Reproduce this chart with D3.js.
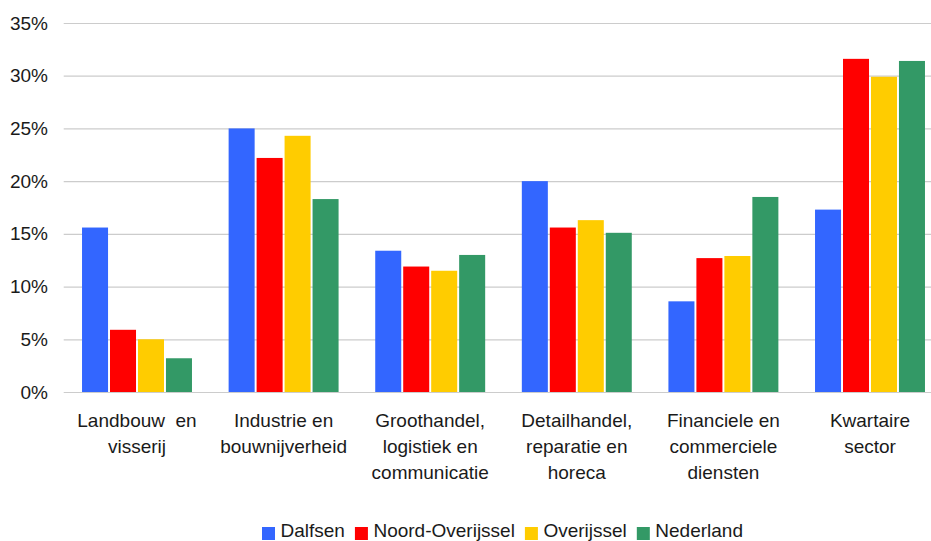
<!DOCTYPE html>
<html>
<head>
<meta charset="utf-8">
<script src="https://cdn.jsdelivr.net/npm/d3@7"></script>
<style>
    body { margin: 0; background: #fff; }
    text { font-family: "Liberation Sans", Arial, sans-serif; fill: #1a1a1a; }
</style>
</head>
<body>
<div id="root"></div>
<script>
"use strict";

/* ************************************* Data ******************************** */

// Sectors, each label split in the lines shown under the axis
const categories = [
    ["Landbouw  en", "visserij"],
    ["Industrie en", "bouwnijverheid"],
    ["Groothandel,", "logistiek en", "communicatie"],
    ["Detailhandel,", "reparatie en", "horeca"],
    ["Financiele en", "commerciele", "diensten"],
    ["Kwartaire", "sector"]
];

const seriesNames = ["Dalfsen", "Noord-Overijssel", "Overijssel", "Nederland"];

// Share of jobs per sector (%)
const dalfsen = [15.6, 25.0, 13.4, 20.0, 8.6, 17.3];
const noordOverijssel = [5.9, 22.2, 11.9, 15.6, 12.7, 31.6];
const overijssel = [5.0, 24.3, 11.5, 16.3, 12.9, 29.9];
const nederland = [3.2, 18.3, 13.0, 15.1, 18.5, 31.4];

const yTicks = [0, 5, 10, 15, 20, 25, 30, 35];

/* ************************************* Set up ******************************** */

const width = 931;
const height = 541;
const colors = ["#3366ff", "#ff0000", "#ffcc00", "#339966"];

const plot = { left: 63.7, right: 943.3, top: 23, bottom: 392 };

const values = [dalfsen, noordOverijssel, overijssel, nederland];
const keys = categories.map((c, i) => i);

let svg = d3.select('#root')
    .append('svg')
    .attr('width', width)
    .attr('height', height);

/* ************************************* Scales ******************************** */

let x0 = d3.scaleBand()
    .domain(keys)
    .range([plot.left, plot.right])
    .paddingInner(0.25)
    .paddingOuter(0.125);

let x1 = d3.scaleBand()
    .domain(seriesNames)
    .range([0, x0.bandwidth()])
    .paddingInner(0.07);

let yScale = d3.scaleLinear()
    .domain([0, 35])
    .range([plot.bottom, plot.top]);

/* ************************************* Grid + y axis ******************************** */

let yAxis = d3.axisLeft(yScale)
    .tickValues(yTicks)
    .tickSize(-(width - plot.left))
    .tickPadding(15)
    .tickFormat((d) => d + '%');

let yAxisG = svg.append('g')
    .attr('transform', `translate(${plot.left},0)`)
    .call(yAxis);

yAxisG.select('.domain').remove();
yAxisG.selectAll('.tick line')
    .attr('stroke', '#cccccc')
    .attr('stroke-width', 1.2);
yAxisG.selectAll('.tick text')
    .attr('x', 48 - plot.left)
    .style('font-size', '19px')
    .style('font-family', '"Liberation Sans", Arial, sans-serif')
    .attr('fill', '#1a1a1a');

/* ************************************* Bars ******************************** */

let groups = svg.selectAll('.group')
    .data(keys)
    .enter().append('g')
    .attr('class', 'group')
    .attr('transform', (d) => `translate(${x0(d)},0)`);

groups.selectAll('rect')
    .data((i) => seriesNames.map((s, j) => ({ name: s, value: values[j][i], color: colors[j] })))
    .enter().append('rect')
    .attr('x', (d) => x1(d.name))
    .attr('width', x1.bandwidth())
    .attr('y', (d) => yScale(d.value))
    .attr('height', (d) => yScale(0) - yScale(d.value))
    .attr('fill', (d) => d.color);

/* ************************************* Category labels ******************************** */

let labels = svg.selectAll('.cat-label')
    .data(keys)
    .enter().append('text')
    .attr('class', 'cat-label')
    .attr('text-anchor', 'middle')
    .style('font-size', '19px')
    .style('white-space', 'pre')
    .attr('x', (d) => x0(d) + x0.bandwidth() / 2)
    .attr('y', 427);

labels.selectAll('tspan')
    .data((i) => categories[i].map((line) => ({ line: line, i: i })))
    .enter().append('tspan')
    .attr('x', (d) => x0(d.i) + x0.bandwidth() / 2)
    .attr('dy', (d, k) => k === 0 ? 0 : 26)
    .text((d) => d.line);

/* ************************************* Legend ******************************** */

let legend = svg.append('g')
    .attr('transform', 'translate(262,537)');

let offset = 0;
seriesNames.forEach((name, j) => {
    let item = legend.append('g').attr('transform', `translate(${offset},0)`);
    item.append('rect')
        .attr('x', 0)
        .attr('y', -10)
        .attr('width', 13)
        .attr('height', 13)
        .attr('fill', colors[j]);
    let t = item.append('text')
        .attr('x', 18.5)
        .attr('y', 0)
        .style('font-size', '19px')
        .text(name);
    offset += 18.5 + t.node().getComputedTextLength() + 10;
});
</script>
</body>
</html>
